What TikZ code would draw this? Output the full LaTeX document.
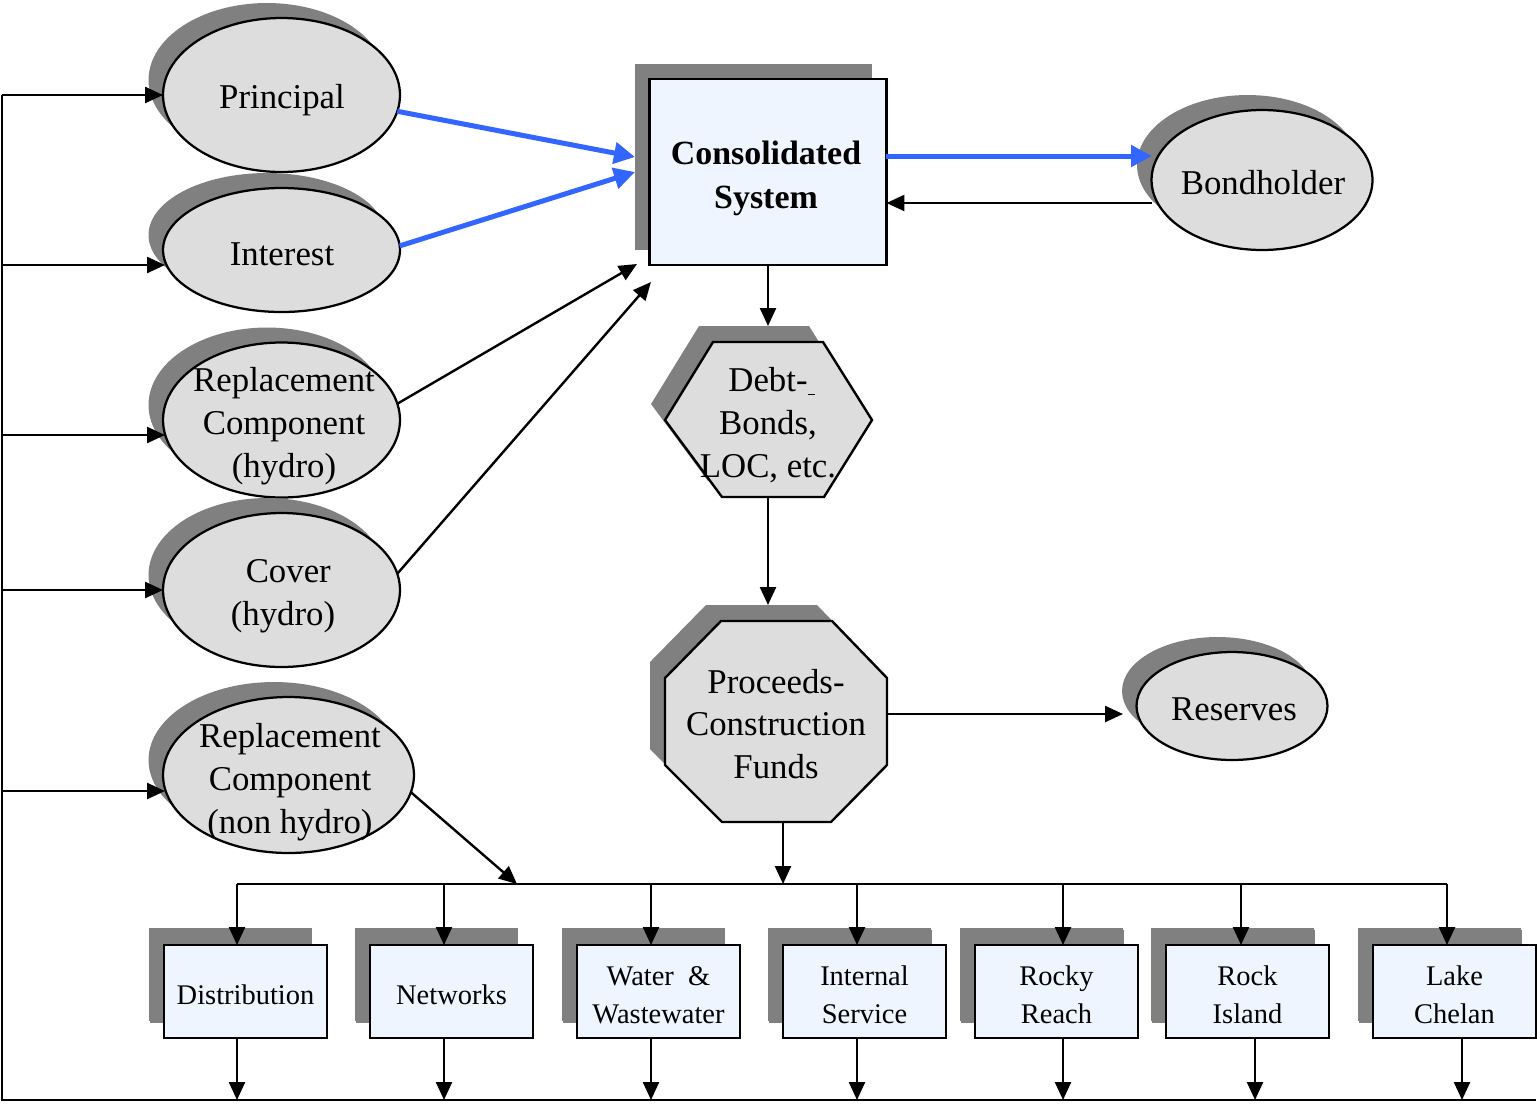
\documentclass[tikz,border=0pt]{standalone}
\usepackage{fontspec}
\setmainfont{Liberation Serif}
\usetikzlibrary{shapes.geometric,arrows.meta,shadows,calc}
\definecolor{ellfill}{HTML}{DDDDDD}
\definecolor{boxfill}{HTML}{EEF5FF}
\definecolor{shad}{HTML}{808080}
\definecolor{flowblue}{HTML}{3366FF}
\begin{document}
\begin{tikzpicture}[x=0.02cm,y=-0.02cm,
  sh/.style={general shadow={fill=shad,shadow xshift=-0.29cm,shadow yshift=0.3cm}},
  ell/.style={ellipse,draw=black,line width=0.045cm,fill=ellfill,inner sep=0pt,outer sep=0pt,sh},
  sysbox/.style={rectangle,draw=black,line width=0.045cm,fill=boxfill,inner sep=0pt,outer sep=0pt,sh},
  big/.style={align=center,inner sep=0pt,font=\fontsize{19.8}{24.4}\selectfont},
  small/.style={align=center,inner sep=0pt,font=\fontsize{16.2}{21.5}\selectfont},
  arr/.style={line width=0.048cm,-{Triangle[length=0.36cm,width=0.32cm]}},
  barr/.style={line width=0.1cm,draw=flowblue,-{Triangle[length=0.42cm,width=0.42cm]}},
  ln/.style={line width=0.048cm}
]
\useasboundingbox (0,0) rectangle (1537,1103);

% ellipses
\node[ell,minimum width=4.74cm,minimum height=3.08cm] (princ) at (281.5,95) {};
\node[big] (princT) at (282,100) {Principal};
\node[ell,minimum width=4.74cm,minimum height=2.48cm] (inter) at (281.5,250) {};
\node[big] (interT) at (282,254) {Interest};
\node[ell,minimum width=4.74cm,minimum height=3.1cm] (rephy) at (281.5,420) {};
\node[big] (rephyT) at (284,426) {Replacement\\Component\\(hydro)};
\node[ell,minimum width=4.74cm,minimum height=3.08cm] (cover) at (281.5,590) {};
\node[big] (coverT) at (283,596) {\kern6pt Cover\\(hydro)};
\node[ell,minimum width=5.02cm,minimum height=3.12cm] (repnh) at (288.5,775) {};
\node[big] (repnhT) at (290,782) {Replacement\\Component\\(non hydro)};
\node[ell,minimum width=4.42cm,minimum height=2.8cm] (bond) at (1262,180) {};
\node[big] (bondT) at (1263,183) {Bondholder};
\node[ell,minimum width=3.82cm,minimum height=2.16cm] (resv) at (1232,706) {};
\node[big] (resvT) at (1234,709) {Reserves};

% consolidated system
\node[sysbox,minimum width=4.74cm,minimum height=3.72cm] (cons) at (768,172) {};
\node[big,font=\fontsize{19.3}{25}\selectfont\bfseries] (consT) at (766,178) {Consolidated\\System};

% hexagon
\draw[ln,fill=ellfill,general shadow={fill=shad,shadow xshift=-0.28cm,shadow yshift=0.32cm}]
  (713,342) -- (823,342) -- (872,420) -- (824,497) -- (722,497) -- (665,420) -- cycle;
\node[big] (debtT) at (768,425) {Debt-\rlap{\rule[-2pt]{4pt}{0.5pt}}\\Bonds,\\LOC, etc.};
\coordinate (hexN) at (768,326);
\coordinate (hexS) at (768,497);

% octagon
\draw[ln,fill=ellfill,general shadow={fill=shad,shadow xshift=-0.3cm,shadow yshift=0.32cm}]
  (721,621) -- (832,621) -- (887,678) -- (887,765) -- (831,822) -- (722,822) -- (665,765) -- (665,678) -- cycle;
\node[big] (procT) at (776,724) {Proceeds-\\Construction\\Funds};
\coordinate (octN) at (768,605);
\coordinate (octE) at (887,714);
\coordinate (octS) at (783,822);

% bottom boxes
\foreach \n/\x/\t in {d1/245.5/Distribution,d2/451.5/Networks,d3/658.5/{Water \ \&\\Wastewater},d4/864.5/{Internal\\Service},d5/1056.5/{Rocky\\Reach},d6/1247.5/{Rock\\Island},d7/1454.5/{Lake\\Chelan}}{
  \node[sysbox,minimum width=3.26cm,minimum height=1.86cm,
        general shadow={fill=shad,shadow xshift=-0.3cm,shadow yshift=0.34cm}] (\n) at (\x,991.5) {};
  \node[small] (\n T) at (\x,995) {\t};
}

% coordinates
\coordinate (c1) at (635,157);
\coordinate (c2) at (635,172);
\coordinate (c3) at (637,264);
\coordinate (c4) at (651,282);
\coordinate (bondIn) at (1152,156);
\coordinate (bondOut) at (1152,203);
\coordinate (resvIn) at (1123,714);
\coordinate (busL) at (237,884);
\coordinate (busR) at (1447,884);
\coordinate (busIn) at (517,884);
\coordinate (loopR) at (1536,1100);
\coordinate (loopBL) at (2,1100);
\coordinate (loopTL) at (2,95);

% blue flows
\draw[barr] (princ.-8) -- (c1);
\draw[barr] (inter.2) -- (c2);
\draw[barr] (bondIn -| cons.east) -- (bondIn);
% black arrows
\draw[arr] (bondOut) -- (bondOut -| cons.east);
\draw[arr] (rephy.8) -- (c3);
\draw[arr] (cover.8) -- (c4);
\draw[arr] (repnh.-8) -- (busIn);
\draw[arr] (cons.south) -- (hexN);
\draw[arr] (hexS) -- (octN);
\draw[arr] (octE) -- (resvIn);
\draw[arr] (octS) -- (octS |- busL);

% bus
\draw[ln] (busL) -- (busR);
\foreach \n/\x in {d1/237,d2/444,d3/651,d4/857,d5/1063,d6/1241,d7/1447}{
  \draw[arr] (\x,884) -- (\x,945);
}
\foreach \n/\x in {d1/237,d2/444,d3/651,d4/857,d5/1063,d6/1255,d7/1462}{
  \draw[arr] (\x,1038) -- (\x,1100);
}

% loop back
\draw[ln] (loopR) -- (loopBL) -- (loopTL);
\draw[arr] (loopTL) -- (princ.west);
\draw[arr] (2,265) -- (165,265);
\draw[arr] (2,435) -- (165,435);
\draw[arr] (2,590) -- (cover.west);
\draw[arr] (2,791) -- (165,791);
\end{tikzpicture}
\end{document}
